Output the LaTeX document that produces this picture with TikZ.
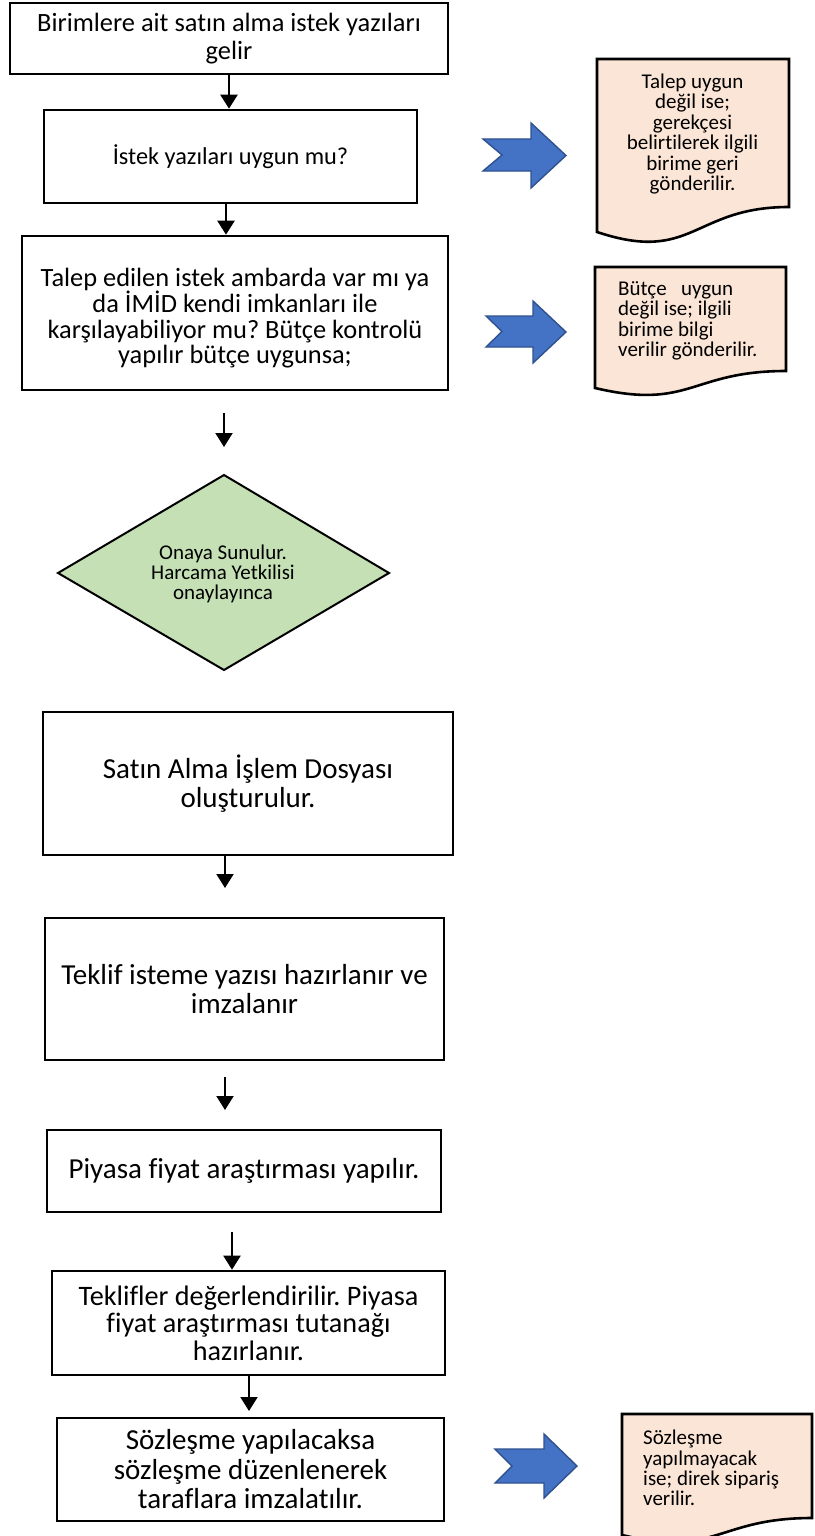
\documentclass[tikz,border=0pt]{standalone}
\usepackage{fontspec}
\setmainfont{Carlito}[RawFeature={-liga;-clig;-dlig;-calt}]
\usetikzlibrary{arrows.meta}
\frenchspacing
\definecolor{arrblue}{HTML}{4472C4}
\definecolor{arrline}{HTML}{2F528F}
\definecolor{docpeach}{HTML}{FBE5D6}
\definecolor{diagreen}{HTML}{C5E0B4}
\newcommand{\fntA}{\fontsize{26.4}{27.5}\selectfont}
\newcommand{\fntB}{\fontsize{24.3}{26}\selectfont}
\newcommand{\fntC}{\fontsize{29}{29.5}\selectfont}
\newcommand{\fntS}{\fontsize{21}{20.4}\selectfont}
\tikzset{
  box/.style={draw=black, line width=2.6pt, rectangle, inner sep=0pt, align=center},
  flow/.style={line width=2.3pt, -{Triangle[width=17pt,length=14pt]}},
  blockarr/.style={fill=arrblue, draw=arrline, line width=1.4pt, line join=miter},
  docshape/.style={fill=docpeach, draw=black, line width=2.6pt, line join=miter},
  dia/.style={fill=diagreen, draw=black, line width=2pt, line join=miter},
  smalltext/.style={font=\fntS, inner sep=0pt},
}
\begin{document}
\begin{tikzpicture}[x=1pt,y=-1pt]
\useasboundingbox (0,0) rectangle (814,1536);
\fill[white] (0,0) rectangle (814,1536);

% main boxes
\node[box, minimum width=438pt, minimum height=71pt, font=\fntA] (b1) at (229,38.5)
  {Birimlere ait satın alma istek yazıları\\gelir};
\node[box, minimum width=373pt, minimum height=93pt, font=\fntB] (b2) at (230.5,156.5)
  {İstek yazıları uygun mu?};
\node[box, minimum width=426pt, minimum height=154pt] (b3) at (235,313) {};
\node[align=center, inner sep=0pt, font=\fontsize{26.4}{25.5}\selectfont] (b3txt) at (235,318)
  {Talep edilen istek ambarda var mı ya\\da İMİD kendi imkanları ile\\karşılayabiliyor mu? Bütçe kontrolü\\yapılır bütçe uygunsa;};

% diamond
\coordinate (dT) at (224,475);
\coordinate (dR) at (389,573);
\coordinate (dB) at (224,670);
\coordinate (dL) at (58,573);
\draw[dia] (dT) -- (dR) -- (dB) -- (dL) -- cycle;
\node[smalltext, align=center, font=\fontsize{21}{19.8}\selectfont] (dtxt) at (223,574)
  {Onaya Sunulur.\\Harcama Yetkilisi\\onaylayınca};

\node[box, minimum width=410pt, minimum height=143pt, font=\fntC] (b4) at (248,783.5)
  {Satın Alma İşlem Dosyası\\oluşturulur.};
\node[box, minimum width=399pt, minimum height=142pt, font=\fntC] (b5) at (244.5,989)
  {Teklif isteme yazısı hazırlanır ve\\imzalanır};
\node[box, minimum width=394pt, minimum height=82pt, font=\fntC] (b6) at (244,1171)
  {Piyasa fiyat araştırması yapılır.};
\node[box, minimum width=393pt, minimum height=104pt, font=\fontsize{28.2}{27.5}\selectfont] (b7) at (248.5,1323)
  {Teklifler değerlendirilir. Piyasa\\fiyat araştırması tutanağı\\hazırlanır.};
\node[box, minimum width=387pt, minimum height=103pt, font=\fntC] (b8) at (250.5,1469.5)
  {Sözleşme yapılacaksa\\sözleşme düzenlenerek\\taraflara imzalatılır.};

% vertical connectors
\draw[flow] (b1.south) -- (b1.south |- b2.north);
\coordinate (a2x) at (226,0);
\draw[flow] (a2x |- b2.south) -- (a2x |- b3.north);
\coordinate (a3s) at (224,413);
\coordinate (a3e) at (224,447);
\draw[flow, line width=2pt] (a3s) -- (a3e);
\coordinate (a4e) at (225,888);
\draw[flow, line width=2pt] (a4e |- b4.south) -- (a4e);
\coordinate (a5s) at (225,1077);
\coordinate (a5e) at (225,1110);
\draw[flow, line width=2pt] (a5s) -- (a5e);
\coordinate (a6s) at (232,1232);
\draw[flow, line width=2pt] (a6s) -- (a6s |- b7.north);
\coordinate (a7e) at (249,1411);
\draw[flow, line width=2pt] (a7e |- b7.south) -- (a7e);

% block arrows
\draw[blockarr] (483,139) -- (531,139) -- (531,123) -- (566,155.5) -- (531,188) -- (531,171) -- (483,171) -- (502,155) -- cycle;
\draw[blockarr] (486,316) -- (533,316) -- (533,301) -- (566,332) -- (533,363) -- (533,347) -- (486,347) -- (502,331.5) -- cycle;
\draw[blockarr] (495,1449) -- (544,1449) -- (544,1434) -- (577,1466) -- (544,1498) -- (544,1483) -- (495,1483) -- (512,1466) -- cycle;

% documents
\draw[docshape] (597,59) -- (789,59) -- (789,207) .. controls (693,207) and (693,264) .. (597,232) -- cycle;
\node[smalltext, align=center] (d1txt) at (692.5,134)
  {Talep uygun\\değil ise;\\gerekçesi\\belirtilerek ilgili\\birime geri\\gönderilir.};

\draw[docshape] (595,267) -- (786,267) -- (786,371) .. controls (690.5,371) and (690.5,410.5) .. (595,388) -- cycle;
\node[smalltext, align=left, anchor=west] (d2txt) at (618,321)
  {Bütçe\ \ \ uygun\\değil ise; ilgili\\birime bilgi\\verilir gönderilir.};

\draw[docshape] (622,1414) -- (812,1414) -- (812,1518) .. controls (717,1518) and (717,1557.6) .. (622,1535) -- cycle;
\node[smalltext, align=left, anchor=west] (d3txt) at (643,1468)
  {Sözleşme\\yapılmayacak\\ise; direk sipariş\\verilir.};
\end{tikzpicture}
\end{document}
